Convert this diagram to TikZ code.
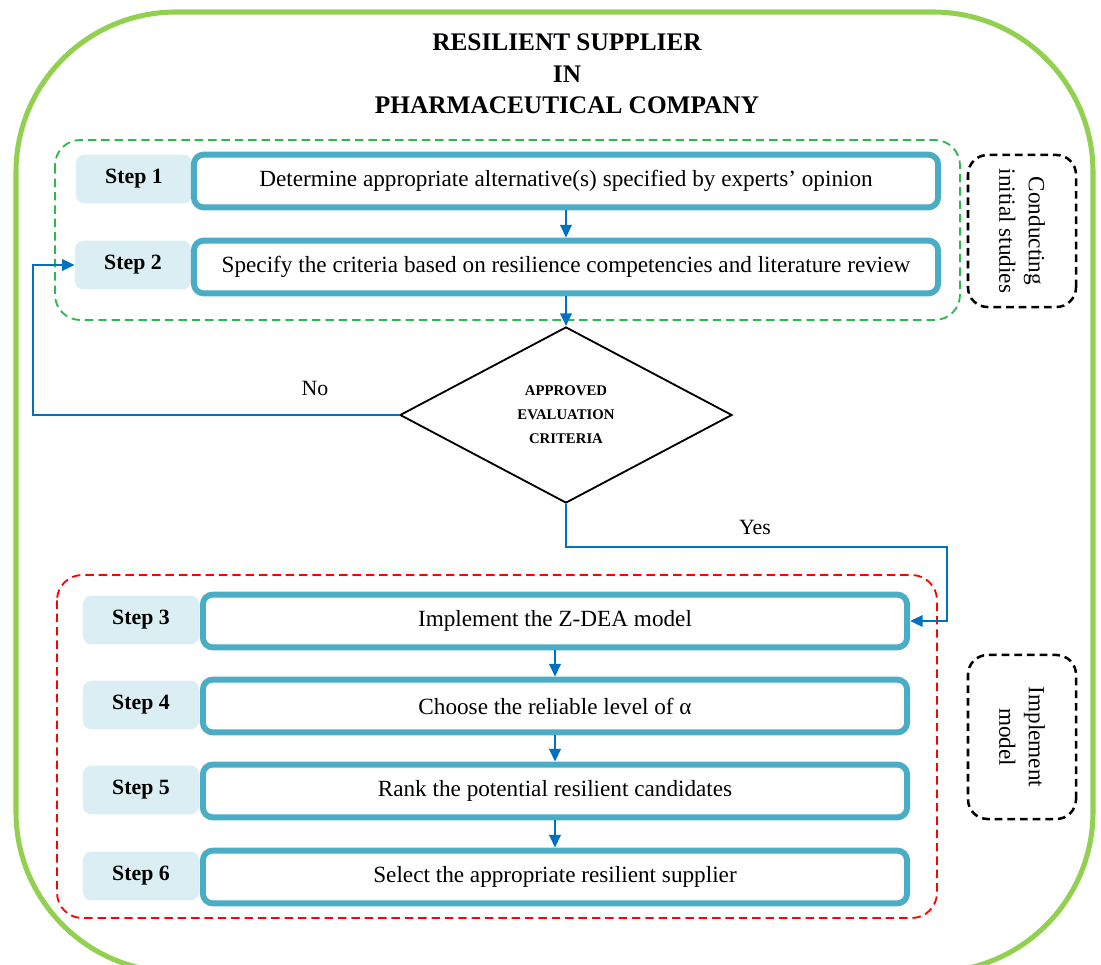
\documentclass[tikz,border=0pt]{standalone}
\usepackage{fontspec}
\setmainfont{Liberation Serif}
\usetikzlibrary{arrows.meta, shapes.geometric}

\definecolor{leafgreen}{HTML}{92D050}
\definecolor{groupgreen}{HTML}{2DB84B}
\definecolor{stepblue}{HTML}{4BACC6}
\definecolor{tagfill}{HTML}{DAEEF3}
\definecolor{flowblue}{HTML}{0070C0}

\begin{document}
\begin{tikzpicture}[x=0.025cm, y=-0.025cm, >={Triangle[length=9pt, width=8pt]},
		mainbox/.style={draw=stepblue, line width=4.2pt, fill=white, rounded corners=7pt,
			minimum height=1.32cm, inner sep=0pt, font=\fontsize{16.5}{19}\selectfont},
		tagbox/.style={fill=tagfill, rounded corners=6pt, minimum width=2.9cm,
			minimum height=1.22cm, inner sep=0pt, font=\fontsize{15.5}{18}\selectfont\bfseries},
		groupbox/.style={line width=1.3pt, dash pattern=on 6pt off 3.5pt, rounded corners=18pt},
		sidebox/.style={draw, line width=1.8pt, dash pattern=on 5.5pt off 3.5pt, rounded corners=14pt,
			align=center, inner sep=0pt, font=\fontsize{16.5}{21}\selectfont},
		flow/.style={draw=flowblue, line width=1.9pt}]
		\useasboundingbox (0,0) rectangle (1101,965);
		\clip (0,0) rectangle (1101,965);
		\draw[leafgreen, line width=3.6pt, rounded corners=4cm] (16,12) rectangle (1093,972);
		\node[align=center, font=\fontsize{18}{22.5}\selectfont\bfseries] (title) at (567,74)
			{RESILIENT SUPPLIER\\IN\\PHARMACEUTICAL COMPANY};
		\draw[groupbox, groupgreen] (55,140) rectangle (960,320);
		\draw[groupbox, red] (57,575) rectangle (937,918);
		\node[tagbox] (tag1) at (134,179) {Step 1};
		\node[tagbox] (tag2) at (133,265) {Step 2};
		\node[mainbox, minimum width=18.6cm] (s1) at (566,181) {Determine appropriate alternative(s) specified by experts’ opinion};
		\node[mainbox, minimum width=18.6cm] (s2) at (566,267) {Specify the criteria based on resilience competencies and literature review};
		\foreach \i/\y/\txt in {3/621/Implement the Z-DEA model, 4/706/Choose the reliable level of α,
			5/791/Rank the potential resilient candidates, 6/877/Select the appropriate resilient supplier} {
			\node[tagbox] (tag\i) at (141,\y-1) {Step \i};
			\node[mainbox, minimum width=17.6cm] (s\i) at (555,\y) {\txt};
		}
		\node[draw, line width=1.3pt, diamond, aspect=1.89, minimum width=8.3cm, minimum height=4.4cm,
			inner sep=0pt, align=center, font=\fontsize{10.5}{17}\selectfont\bfseries] (dec) at (566,415)
			{APPROVED\\EVALUATION\\CRITERIA};
		\node[sidebox, rotate=-90, minimum width=3.8cm, minimum height=2.7cm] (side1) at (1022,231)
			{Conducting\\initial studies};
		\node[sidebox, rotate=-90, minimum width=4.1cm, minimum height=2.7cm] (side2) at (1022,737)
			{Implement\\model};
		\draw[flow, ->] (s1.south) -- (s2.north);
		\draw[flow, ->] (s2.south) -- (dec.north);
		\foreach \a/\b in {3/4, 4/5, 5/6}
			\draw[flow, ->] (s\a.south) -- (s\b.north);
		\coordinate (nobend) at (33,415);
		\coordinate (yesbend) at (947,547);
		\draw[flow, ->] (dec.west) -- (nobend) |- (tag2.west);
		\draw[flow, ->] (dec.south) |- (yesbend) |- (s3.east);
		\node[font=\fontsize{15.5}{18}\selectfont] (nolabel) at (315,388) {No};
		\node[font=\fontsize{15.5}{18}\selectfont] (yeslabel) at (755,527) {Yes};
	\end{tikzpicture}
\end{document}
